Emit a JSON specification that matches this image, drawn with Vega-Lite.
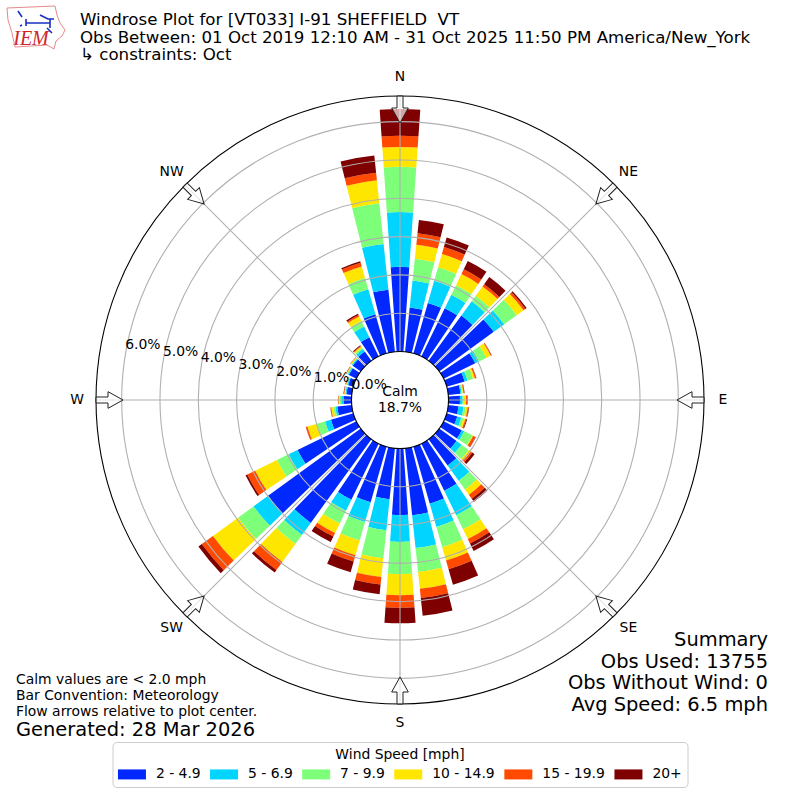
{"$schema":"https://vega.github.io/schema/vega-lite/v6.json","width":800,"height":800,"padding":0,"autosize":{"type":"fit","contains":"padding"},"background":"white","config":{"view":{"stroke":null},"font":"DejaVu Sans","text":{"font":"DejaVu Sans"}},
"datasets":{
"bars":[
{"a0":-4,"a1":4,"s":"2 - 4.9","lo":0,"hi":2.21},{"a0":-4,"a1":4,"s":"5 - 6.9","lo":2.21,"hi":3.64},{"a0":-4,"a1":4,"s":"7 - 9.9","lo":3.64,"hi":4.82},{"a0":-4,"a1":4,"s":"10 - 14.9","lo":4.82,"hi":5.34},{"a0":-4,"a1":4,"s":"15 - 19.9","lo":5.34,"hi":5.63},{"a0":-4,"a1":4,"s":"20+","lo":5.63,"hi":6.33},
{"a0":6,"a1":14,"s":"2 - 4.9","lo":0,"hi":1.16},{"a0":6,"a1":14,"s":"5 - 6.9","lo":1.16,"hi":1.87},{"a0":6,"a1":14,"s":"7 - 9.9","lo":1.87,"hi":2.44},{"a0":6,"a1":14,"s":"10 - 14.9","lo":2.44,"hi":2.81},{"a0":6,"a1":14,"s":"15 - 19.9","lo":2.81,"hi":3.11},{"a0":6,"a1":14,"s":"20+","lo":3.11,"hi":3.46},
{"a0":16,"a1":24,"s":"2 - 4.9","lo":0,"hi":1.37},{"a0":16,"a1":24,"s":"5 - 6.9","lo":1.37,"hi":1.97},{"a0":16,"a1":24,"s":"7 - 9.9","lo":1.97,"hi":2.34},{"a0":16,"a1":24,"s":"10 - 14.9","lo":2.34,"hi":2.70},{"a0":16,"a1":24,"s":"15 - 19.9","lo":2.70,"hi":2.89},{"a0":16,"a1":24,"s":"20+","lo":2.89,"hi":3.15},
{"a0":26,"a1":34,"s":"2 - 4.9","lo":0,"hi":1.40},{"a0":26,"a1":34,"s":"5 - 6.9","lo":1.40,"hi":1.79},{"a0":26,"a1":34,"s":"7 - 9.9","lo":1.79,"hi":2.07},{"a0":26,"a1":34,"s":"10 - 14.9","lo":2.07,"hi":2.39},{"a0":26,"a1":34,"s":"15 - 19.9","lo":2.39,"hi":2.53},{"a0":26,"a1":34,"s":"20+","lo":2.53,"hi":2.77},
{"a0":36,"a1":44,"s":"2 - 4.9","lo":0,"hi":1.46},{"a0":36,"a1":44,"s":"5 - 6.9","lo":1.46,"hi":1.92},{"a0":36,"a1":44,"s":"7 - 9.9","lo":1.92,"hi":2.10},{"a0":36,"a1":44,"s":"10 - 14.9","lo":2.10,"hi":2.40},{"a0":36,"a1":44,"s":"15 - 19.9","lo":2.40,"hi":2.47},{"a0":36,"a1":44,"s":"20+","lo":2.47,"hi":2.70},
{"a0":46,"a1":54,"s":"2 - 4.9","lo":0,"hi":1.76},{"a0":46,"a1":54,"s":"5 - 6.9","lo":1.76,"hi":2.10},{"a0":46,"a1":54,"s":"7 - 9.9","lo":2.10,"hi":2.50},{"a0":46,"a1":54,"s":"10 - 14.9","lo":2.50,"hi":2.72},{"a0":46,"a1":54,"s":"15 - 19.9","lo":2.72,"hi":2.78},{"a0":46,"a1":54,"s":"20+","lo":2.78,"hi":2.82},
{"a0":56,"a1":64,"s":"2 - 4.9","lo":0,"hi":0.92},{"a0":56,"a1":64,"s":"5 - 6.9","lo":0.92,"hi":1.03},{"a0":56,"a1":64,"s":"7 - 9.9","lo":1.03,"hi":1.24},{"a0":56,"a1":64,"s":"10 - 14.9","lo":1.24,"hi":1.37},{"a0":56,"a1":64,"s":"15 - 19.9","lo":1.37,"hi":1.39},{"a0":56,"a1":64,"s":"20+","lo":1.39,"hi":1.40},
{"a0":66,"a1":74,"s":"2 - 4.9","lo":0,"hi":0.49},{"a0":66,"a1":74,"s":"5 - 6.9","lo":0.49,"hi":0.57},{"a0":66,"a1":74,"s":"7 - 9.9","lo":0.57,"hi":0.72},{"a0":66,"a1":74,"s":"10 - 14.9","lo":0.72,"hi":0.77},{"a0":66,"a1":74,"s":"15 - 19.9","lo":0.77,"hi":0.80},{"a0":66,"a1":74,"s":"20+","lo":0.80,"hi":0.81},
{"a0":76,"a1":84,"s":"2 - 4.9","lo":0,"hi":0.32},{"a0":76,"a1":84,"s":"5 - 6.9","lo":0.32,"hi":0.35},{"a0":76,"a1":84,"s":"7 - 9.9","lo":0.35,"hi":0.38},{"a0":76,"a1":84,"s":"10 - 14.9","lo":0.38,"hi":0.40},{"a0":76,"a1":84,"s":"15 - 19.9","lo":0.40,"hi":0.42},{"a0":76,"a1":84,"s":"20+","lo":0.42,"hi":0.43},
{"a0":86,"a1":94,"s":"2 - 4.9","lo":0,"hi":0.30},{"a0":86,"a1":94,"s":"5 - 6.9","lo":0.30,"hi":0.37},{"a0":86,"a1":94,"s":"7 - 9.9","lo":0.37,"hi":0.40},{"a0":86,"a1":94,"s":"10 - 14.9","lo":0.40,"hi":0.46},{"a0":86,"a1":94,"s":"15 - 19.9","lo":0.46,"hi":0.50},{"a0":86,"a1":94,"s":"20+","lo":0.50,"hi":0.505},
{"a0":96,"a1":104,"s":"2 - 4.9","lo":0,"hi":0.27},{"a0":96,"a1":104,"s":"5 - 6.9","lo":0.27,"hi":0.40},{"a0":96,"a1":104,"s":"7 - 9.9","lo":0.40,"hi":0.46},{"a0":96,"a1":104,"s":"10 - 14.9","lo":0.46,"hi":0.51},{"a0":96,"a1":104,"s":"15 - 19.9","lo":0.51,"hi":0.54},{"a0":96,"a1":104,"s":"20+","lo":0.54,"hi":0.55},
{"a0":106,"a1":114,"s":"2 - 4.9","lo":0,"hi":0.29},{"a0":106,"a1":114,"s":"5 - 6.9","lo":0.29,"hi":0.40},{"a0":106,"a1":114,"s":"7 - 9.9","lo":0.40,"hi":0.46},{"a0":106,"a1":114,"s":"10 - 14.9","lo":0.46,"hi":0.51},{"a0":106,"a1":114,"s":"15 - 19.9","lo":0.51,"hi":0.54},{"a0":106,"a1":114,"s":"20+","lo":0.54,"hi":0.56},
{"a0":116,"a1":124,"s":"2 - 4.9","lo":0,"hi":0.53},{"a0":116,"a1":124,"s":"5 - 6.9","lo":0.53,"hi":0.60},{"a0":116,"a1":124,"s":"7 - 9.9","lo":0.60,"hi":0.84},{"a0":116,"a1":124,"s":"10 - 14.9","lo":0.84,"hi":0.86},{"a0":116,"a1":124,"s":"15 - 19.9","lo":0.86,"hi":0.93},{"a0":116,"a1":124,"s":"20+","lo":0.93,"hi":0.94},
{"a0":126,"a1":134,"s":"2 - 4.9","lo":0,"hi":0.56},{"a0":126,"a1":134,"s":"5 - 6.9","lo":0.56,"hi":0.72},{"a0":126,"a1":134,"s":"7 - 9.9","lo":0.72,"hi":0.95},{"a0":126,"a1":134,"s":"10 - 14.9","lo":0.95,"hi":1.02},{"a0":126,"a1":134,"s":"15 - 19.9","lo":1.02,"hi":1.07},{"a0":126,"a1":134,"s":"20+","lo":1.07,"hi":1.14},
{"a0":136,"a1":144,"s":"2 - 4.9","lo":0,"hi":0.85},{"a0":136,"a1":144,"s":"5 - 6.9","lo":0.85,"hi":1.34},{"a0":136,"a1":144,"s":"7 - 9.9","lo":1.34,"hi":1.62},{"a0":136,"a1":144,"s":"10 - 14.9","lo":1.62,"hi":1.79},{"a0":136,"a1":144,"s":"15 - 19.9","lo":1.79,"hi":1.92},{"a0":136,"a1":144,"s":"20+","lo":1.92,"hi":2.02},
{"a0":146,"a1":154,"s":"2 - 4.9","lo":0,"hi":1.37},{"a0":146,"a1":154,"s":"5 - 6.9","lo":1.37,"hi":2.08},{"a0":146,"a1":154,"s":"7 - 9.9","lo":2.08,"hi":2.49},{"a0":146,"a1":154,"s":"10 - 14.9","lo":2.49,"hi":2.77},{"a0":146,"a1":154,"s":"15 - 19.9","lo":2.77,"hi":2.90},{"a0":146,"a1":154,"s":"20+","lo":2.90,"hi":3.12},
{"a0":156,"a1":164,"s":"2 - 4.9","lo":0,"hi":1.55},{"a0":156,"a1":164,"s":"5 - 6.9","lo":1.55,"hi":2.18},{"a0":156,"a1":164,"s":"7 - 9.9","lo":2.18,"hi":2.73},{"a0":156,"a1":164,"s":"10 - 14.9","lo":2.73,"hi":3.09},{"a0":156,"a1":164,"s":"15 - 19.9","lo":3.09,"hi":3.33},{"a0":156,"a1":164,"s":"20+","lo":3.33,"hi":3.75},
{"a0":166,"a1":174,"s":"2 - 4.9","lo":0,"hi":1.76},{"a0":166,"a1":174,"s":"5 - 6.9","lo":1.76,"hi":2.62},{"a0":166,"a1":174,"s":"7 - 9.9","lo":2.62,"hi":3.25},{"a0":166,"a1":174,"s":"10 - 14.9","lo":3.25,"hi":3.69},{"a0":166,"a1":174,"s":"15 - 19.9","lo":3.69,"hi":3.93},{"a0":166,"a1":174,"s":"20+","lo":3.93,"hi":4.40},
{"a0":176,"a1":184,"s":"2 - 4.9","lo":0,"hi":1.74},{"a0":176,"a1":184,"s":"5 - 6.9","lo":1.74,"hi":2.44},{"a0":176,"a1":184,"s":"7 - 9.9","lo":2.44,"hi":3.28},{"a0":176,"a1":184,"s":"10 - 14.9","lo":3.28,"hi":3.83},{"a0":176,"a1":184,"s":"15 - 19.9","lo":3.83,"hi":4.16},{"a0":176,"a1":184,"s":"20+","lo":4.16,"hi":4.56},
{"a0":186,"a1":194,"s":"2 - 4.9","lo":0,"hi":1.34},{"a0":186,"a1":194,"s":"5 - 6.9","lo":1.34,"hi":2.15},{"a0":186,"a1":194,"s":"7 - 9.9","lo":2.15,"hi":2.89},{"a0":186,"a1":194,"s":"10 - 14.9","lo":2.89,"hi":3.38},{"a0":186,"a1":194,"s":"15 - 19.9","lo":3.38,"hi":3.58},{"a0":186,"a1":194,"s":"20+","lo":3.58,"hi":3.83},
{"a0":196,"a1":204,"s":"2 - 4.9","lo":0,"hi":1.51},{"a0":196,"a1":204,"s":"5 - 6.9","lo":1.51,"hi":2.05},{"a0":196,"a1":204,"s":"7 - 9.9","lo":2.05,"hi":2.55},{"a0":196,"a1":204,"s":"10 - 14.9","lo":2.55,"hi":2.95},{"a0":196,"a1":204,"s":"15 - 19.9","lo":2.95,"hi":3.12},{"a0":196,"a1":204,"s":"20+","lo":3.12,"hi":3.41},
{"a0":206,"a1":214,"s":"2 - 4.9","lo":0,"hi":1.63},{"a0":206,"a1":214,"s":"5 - 6.9","lo":1.63,"hi":1.95},{"a0":206,"a1":214,"s":"7 - 9.9","lo":1.95,"hi":2.32},{"a0":206,"a1":214,"s":"10 - 14.9","lo":2.32,"hi":2.60},{"a0":206,"a1":214,"s":"15 - 19.9","lo":2.60,"hi":2.70},{"a0":206,"a1":214,"s":"20+","lo":2.70,"hi":2.86},
{"a0":216,"a1":224,"s":"2 - 4.9","lo":0,"hi":2.70},{"a0":216,"a1":224,"s":"5 - 6.9","lo":2.70,"hi":3.09},{"a0":216,"a1":224,"s":"7 - 9.9","lo":3.09,"hi":3.38},{"a0":216,"a1":224,"s":"10 - 14.9","lo":3.38,"hi":3.96},{"a0":216,"a1":224,"s":"15 - 19.9","lo":3.96,"hi":4.22},{"a0":216,"a1":224,"s":"20+","lo":4.22,"hi":4.30},
{"a0":226,"a1":234,"s":"2 - 4.9","lo":0,"hi":2.99},{"a0":226,"a1":234,"s":"5 - 6.9","lo":2.99,"hi":3.46},{"a0":226,"a1":234,"s":"7 - 9.9","lo":3.46,"hi":3.96},{"a0":226,"a1":234,"s":"10 - 14.9","lo":3.96,"hi":4.77},{"a0":226,"a1":234,"s":"15 - 19.9","lo":4.77,"hi":5.13},{"a0":226,"a1":234,"s":"20+","lo":5.13,"hi":5.24},
{"a0":236,"a1":244,"s":"2 - 4.9","lo":0,"hi":1.71},{"a0":236,"a1":244,"s":"5 - 6.9","lo":1.71,"hi":1.97},{"a0":236,"a1":244,"s":"7 - 9.9","lo":1.97,"hi":2.31},{"a0":236,"a1":244,"s":"10 - 14.9","lo":2.31,"hi":2.94},{"a0":236,"a1":244,"s":"15 - 19.9","lo":2.94,"hi":3.17},{"a0":236,"a1":244,"s":"20+","lo":3.17,"hi":3.22},
{"a0":246,"a1":254,"s":"2 - 4.9","lo":0,"hi":0.61},{"a0":246,"a1":254,"s":"5 - 6.9","lo":0.61,"hi":0.77},{"a0":246,"a1":254,"s":"7 - 9.9","lo":0.77,"hi":0.99},{"a0":246,"a1":254,"s":"10 - 14.9","lo":0.99,"hi":1.25},{"a0":246,"a1":254,"s":"15 - 19.9","lo":1.25,"hi":1.29},{"a0":246,"a1":254,"s":"20+","lo":1.29,"hi":1.295},
{"a0":256,"a1":264,"s":"2 - 4.9","lo":0,"hi":0.38},{"a0":256,"a1":264,"s":"5 - 6.9","lo":0.38,"hi":0.43},{"a0":256,"a1":264,"s":"7 - 9.9","lo":0.43,"hi":0.48},{"a0":256,"a1":264,"s":"10 - 14.9","lo":0.48,"hi":0.54},{"a0":256,"a1":264,"s":"15 - 19.9","lo":0.54,"hi":0.56},{"a0":256,"a1":264,"s":"20+","lo":0.56,"hi":0.565},
{"a0":266,"a1":274,"s":"2 - 4.9","lo":0,"hi":0.21},{"a0":266,"a1":274,"s":"5 - 6.9","lo":0.21,"hi":0.27},{"a0":266,"a1":274,"s":"7 - 9.9","lo":0.27,"hi":0.31},{"a0":266,"a1":274,"s":"10 - 14.9","lo":0.31,"hi":0.34},{"a0":266,"a1":274,"s":"15 - 19.9","lo":0.34,"hi":0.35},{"a0":266,"a1":274,"s":"20+","lo":0.35,"hi":0.355},
{"a0":276,"a1":284,"s":"2 - 4.9","lo":0,"hi":0.14},{"a0":276,"a1":284,"s":"5 - 6.9","lo":0.14,"hi":0.17},{"a0":276,"a1":284,"s":"7 - 9.9","lo":0.17,"hi":0.18},{"a0":276,"a1":284,"s":"10 - 14.9","lo":0.18,"hi":0.20},{"a0":276,"a1":284,"s":"15 - 19.9","lo":0.20,"hi":0.21},{"a0":276,"a1":284,"s":"20+","lo":0.21,"hi":0.22},
{"a0":286,"a1":294,"s":"2 - 4.9","lo":0,"hi":0.14},{"a0":286,"a1":294,"s":"5 - 6.9","lo":0.14,"hi":0.17},{"a0":286,"a1":294,"s":"7 - 9.9","lo":0.17,"hi":0.19},{"a0":286,"a1":294,"s":"10 - 14.9","lo":0.19,"hi":0.20},{"a0":286,"a1":294,"s":"15 - 19.9","lo":0.20,"hi":0.21},{"a0":286,"a1":294,"s":"20+","lo":0.21,"hi":0.22},
{"a0":296,"a1":304,"s":"2 - 4.9","lo":0,"hi":0.22},{"a0":296,"a1":304,"s":"5 - 6.9","lo":0.22,"hi":0.25},{"a0":296,"a1":304,"s":"7 - 9.9","lo":0.25,"hi":0.27},{"a0":296,"a1":304,"s":"10 - 14.9","lo":0.27,"hi":0.29},{"a0":296,"a1":304,"s":"15 - 19.9","lo":0.29,"hi":0.30},{"a0":296,"a1":304,"s":"20+","lo":0.30,"hi":0.305},
{"a0":306,"a1":314,"s":"2 - 4.9","lo":0,"hi":0.26},{"a0":306,"a1":314,"s":"5 - 6.9","lo":0.26,"hi":0.29},{"a0":306,"a1":314,"s":"7 - 9.9","lo":0.29,"hi":0.30},{"a0":306,"a1":314,"s":"10 - 14.9","lo":0.30,"hi":0.33},{"a0":306,"a1":314,"s":"15 - 19.9","lo":0.33,"hi":0.34},{"a0":306,"a1":314,"s":"20+","lo":0.34,"hi":0.345},
{"a0":316,"a1":324,"s":"2 - 4.9","lo":0,"hi":0.30},{"a0":316,"a1":324,"s":"5 - 6.9","lo":0.30,"hi":0.38},{"a0":316,"a1":324,"s":"7 - 9.9","lo":0.38,"hi":0.42},{"a0":316,"a1":324,"s":"10 - 14.9","lo":0.42,"hi":0.46},{"a0":316,"a1":324,"s":"15 - 19.9","lo":0.46,"hi":0.48},{"a0":316,"a1":324,"s":"20+","lo":0.48,"hi":0.50},
{"a0":326,"a1":334,"s":"2 - 4.9","lo":0,"hi":0.56},{"a0":326,"a1":334,"s":"5 - 6.9","lo":0.56,"hi":0.87},{"a0":326,"a1":334,"s":"7 - 9.9","lo":0.87,"hi":1.03},{"a0":326,"a1":334,"s":"10 - 14.9","lo":1.03,"hi":1.16},{"a0":326,"a1":334,"s":"15 - 19.9","lo":1.16,"hi":1.20},{"a0":326,"a1":334,"s":"20+","lo":1.20,"hi":1.24},
{"a0":336,"a1":344,"s":"2 - 4.9","lo":0,"hi":1.06},{"a0":336,"a1":344,"s":"5 - 6.9","lo":1.06,"hi":1.74},{"a0":336,"a1":344,"s":"7 - 9.9","lo":1.74,"hi":2.05},{"a0":336,"a1":344,"s":"10 - 14.9","lo":2.05,"hi":2.36},{"a0":336,"a1":344,"s":"15 - 19.9","lo":2.36,"hi":2.46},{"a0":336,"a1":344,"s":"20+","lo":2.46,"hi":2.50},
{"a0":346,"a1":354,"s":"2 - 4.9","lo":0,"hi":1.63},{"a0":346,"a1":354,"s":"5 - 6.9","lo":1.63,"hi":2.83},{"a0":346,"a1":354,"s":"7 - 9.9","lo":2.83,"hi":3.90},{"a0":346,"a1":354,"s":"10 - 14.9","lo":3.90,"hi":4.50},{"a0":346,"a1":354,"s":"15 - 19.9","lo":4.50,"hi":4.70},{"a0":346,"a1":354,"s":"20+","lo":4.70,"hi":5.15}
],
"rings":[{"v":1},{"v":2},{"v":3},{"v":4},{"v":5},{"v":6}],
"frame":[{"v":0},{"v":6.67}],
"spokes":[{"dir":0},{"dir":45},{"dir":90},{"dir":135},{"dir":180},{"dir":225},{"dir":270},{"dir":315}],
"compass":[{"label":"N","dir":0,"edge":6.67,"east":0,"north":291},{"label":"NE","dir":45,"edge":6.67,"east":205.8,"north":205.8},{"label":"E","dir":90,"edge":6.67,"east":291,"north":0},{"label":"SE","dir":135,"edge":6.67,"east":205.8,"north":-205.8},{"label":"S","dir":180,"edge":6.67,"east":0,"north":-291},{"label":"SW","dir":225,"edge":6.67,"east":-205.8,"north":-205.8},{"label":"W","dir":270,"edge":6.67,"east":-291,"north":0},{"label":"NW","dir":315,"edge":6.67,"east":-205.8,"north":205.8}],
"ticks":[{"v":0,"dir":280,"label":"0.0%"},{"v":1,"dir":280,"label":"1.0%"},{"v":2,"dir":280,"label":"2.0%"},{"v":3,"dir":280,"label":"3.0%"},{"v":4,"dir":280,"label":"4.0%"},{"v":5,"dir":280,"label":"5.0%"},{"v":6,"dir":280,"label":"6.0%"}]
},
"layer":[
{"data":{"name":"bars"},"mark":{"type":"arc"},"encoding":{
"theta":{"field":"a0","type":"quantitative","scale":{"domain":[0,360],"range":[0,6.283185307]}},"theta2":{"field":"a1"},
"radius":{"field":"lo","type":"quantitative","scale":{"type":"linear","domain":[0,6.67],"range":[48.5,304],"zero":false,"nice":false}},"radius2":{"field":"hi"},
"color":{"field":"s","type":"nominal","sort":null,"title":"Wind Speed [mph]","scale":{"domain":["2 - 4.9","5 - 6.9","7 - 9.9","10 - 14.9","15 - 19.9","20+"],"range":["#0028ff","#00d4ff","#7dff7a","#ffe600","#ff4a00","#7f0000"]},
"legend":{"orient":"none","legendX":112.5,"legendY":742,"direction":"horizontal","columns":6,"gridAlign":"each","columnPadding":8.1,"padding":5.5,"strokeColor":"#cccccc","cornerRadius":4,"fillColor":"white","titleAnchor":"middle","titleFont":"DejaVu Sans","titleFontSize":13.9,"titleFontWeight":"normal","titleColor":"black","titlePadding":6,"labelFont":"DejaVu Sans","labelFontSize":13.9,"labelColor":"black","labelOffset":24,"symbolType":"M-1.4,-1H4.2V1H-1.4Z","symbolSize":100,"symbolStrokeWidth":0,"symbolOpacity":1}}}},
{"data":{"name":"rings"},"mark":{"type":"arc","filled":false,"fill":null,"stroke":"#b0b0b0","strokeWidth":1.1,"theta":0,"theta2":6.283185307},"encoding":{"radius":{"field":"v","type":"quantitative"},"radius2":{"field":"v"}}},
{"data":{"name":"spokes"},"mark":{"type":"arc","filled":false,"fill":null,"stroke":"#b0b0b0","strokeWidth":1.1,"radius":48.5,"radius2":304},"encoding":{"theta":{"field":"dir","type":"quantitative"},"theta2":{"field":"dir"}}},
{"data":{"name":"frame"},"mark":{"type":"arc","filled":false,"fill":null,"stroke":"black","strokeWidth":1.1,"theta":0,"theta2":6.283185307},"encoding":{"radius":{"field":"v","type":"quantitative"},"radius2":{"field":"v"}}},
{"data":{"name":"compass"},"mark":{"type":"point","filled":true,"fill":"white","fillOpacity":0.65,"stroke":"#222222","strokeWidth":1,"size":4,"shape":"M-3,-13H3V-1H8.3L0,14L-8.3,-1H-3Z"},"encoding":{"x":{"field":"east","type":"quantitative","axis":null,"scale":{"domain":[-400,400],"range":[0,800],"zero":false,"nice":false}},"y":{"field":"north","type":"quantitative","axis":null,"scale":{"domain":[-400,400],"range":[800,0],"zero":false,"nice":false}},"angle":{"field":"dir","type":"quantitative","scale":null}}},
{"data":{"name":"compass"},"mark":{"type":"text","fontSize":13.9,"align":"center","baseline":"middle","radiusOffset":19,"color":"black"},"encoding":{"theta":{"field":"dir","type":"quantitative"},"radius":{"field":"edge","type":"quantitative"},"text":{"field":"label"}}},
{"data":{"name":"ticks"},"mark":{"type":"text","fontSize":13.9,"align":"center","baseline":"middle","dx":17,"dy":-6.5,"color":"black"},"encoding":{"theta":{"field":"dir","type":"quantitative"},"radius":{"field":"v","type":"quantitative"},"text":{"field":"label"}}},
{"data":{"values":[{"t":"Calm"}]},"mark":{"type":"text","x":400,"y":392,"fontSize":13.9,"align":"center","baseline":"middle"},"encoding":{"text":{"field":"t"}}},
{"data":{"values":[{"t":"18.7%"}]},"mark":{"type":"text","x":400,"y":408,"fontSize":13.9,"align":"center","baseline":"middle"},"encoding":{"text":{"field":"t"}}},
{"data":{"values":[{"t":"Windrose Plot for [VT033] I-91 SHEFFIELD\u00a0 VT"}]},"mark":{"type":"text","x":80,"y":20,"fontSize":16.67,"align":"left","baseline":"middle"},"encoding":{"text":{"field":"t"}}},
{"data":{"values":[{"t":"Obs Between: 01 Oct 2019 12:10 AM - 31 Oct 2025 11:50 PM America/New_York"}]},"mark":{"type":"text","x":80,"y":37.5,"fontSize":16.67,"align":"left","baseline":"middle"},"encoding":{"text":{"field":"t"}}},
{"data":{"values":[{"t":"\u00a0↳ constraints: Oct"}]},"mark":{"type":"text","x":80,"y":55,"fontSize":16.67,"align":"left","baseline":"middle"},"encoding":{"text":{"field":"t"}}},
{"data":{"values":[{"t":"Summary"}]},"mark":{"type":"text","x":768,"y":640,"fontSize":19.44,"align":"right","baseline":"middle"},"encoding":{"text":{"field":"t"}}},
{"data":{"values":[{"t":"Obs Used: 13755"}]},"mark":{"type":"text","x":768,"y":662,"fontSize":19.44,"align":"right","baseline":"middle"},"encoding":{"text":{"field":"t"}}},
{"data":{"values":[{"t":"Obs Without Wind: 0"}]},"mark":{"type":"text","x":768,"y":683,"fontSize":19.44,"align":"right","baseline":"middle"},"encoding":{"text":{"field":"t"}}},
{"data":{"values":[{"t":"Avg Speed: 6.5 mph"}]},"mark":{"type":"text","x":768,"y":705,"fontSize":19.44,"align":"right","baseline":"middle"},"encoding":{"text":{"field":"t"}}},
{"data":{"values":[{"t":"Calm values are < 2.0 mph"}]},"mark":{"type":"text","x":16,"y":680,"fontSize":13.9,"align":"left","baseline":"middle"},"encoding":{"text":{"field":"t"}}},
{"data":{"values":[{"t":"Bar Convention: Meteorology"}]},"mark":{"type":"text","x":16,"y":696,"fontSize":13.9,"align":"left","baseline":"middle"},"encoding":{"text":{"field":"t"}}},
{"data":{"values":[{"t":"Flow arrows relative to plot center."}]},"mark":{"type":"text","x":16,"y":712,"fontSize":13.9,"align":"left","baseline":"middle"},"encoding":{"text":{"field":"t"}}},
{"data":{"values":[{"t":"Generated: 28 Mar 2026"}]},"mark":{"type":"text","x":16,"y":730,"fontSize":19.44,"align":"left","baseline":"middle"},"encoding":{"text":{"field":"t"}}},
{"data":{"values":[{"t":"IEM"}]},"mark":{"type":"text","x":31,"y":39,"fontSize":20,"font":"Liberation Serif","fontStyle":"italic","color":"#d2232a","align":"center","baseline":"middle"},"encoding":{"text":{"field":"t"}}},
{"data":{"values":[{"t":"outline"}]},"mark":{"type":"point","x":0,"y":0,"size":4,"filled":false,"stroke":"#e58a90","strokeWidth":1,"opacity":1,"shape":"M7,8L55,6L57,15L60,23L65,30L62,36L56,41L54,49L47,45L15,47L12,33L8,20Z"}},
{"data":{"values":[{"t":"station"}]},"mark":{"type":"point","x":0,"y":0,"size":4,"filled":false,"stroke":"#1a2fc0","strokeWidth":1.6,"opacity":1,"shape":"M18,11L22,17M26,19V26M26,23H50M40,15L48,19H54M50,19V28M47,28L52,33M22,25L20,26"}}
]}
